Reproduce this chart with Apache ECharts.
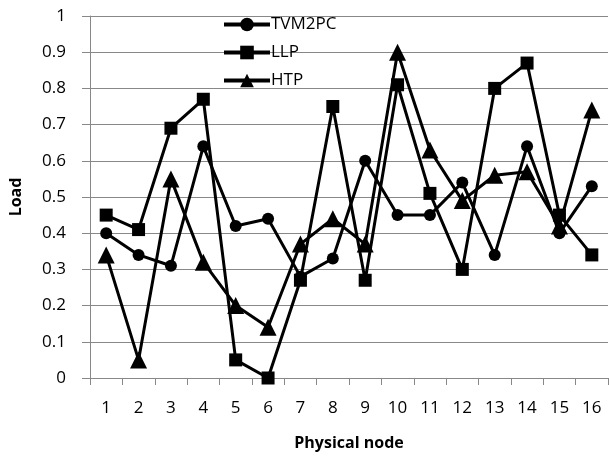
<!DOCTYPE html>
<html>
<head>
<meta charset="utf-8">
<script src="https://cdn.jsdelivr.net/npm/echarts@6/dist/echarts.min.js"></script>
<style>
  html, body { margin: 0; padding: 0; background: #fff; }
  #main { width: 609px; height: 456px; }
</style>
</head>
<body>
<div id="main"></div>
<script>
var nodes = ['1', '2', '3', '4', '5', '6', '7', '8', '9', '10', '11', '12', '13', '14', '15', '16'];
var tvm2pc = [0.40, 0.34, 0.31, 0.64, 0.42, 0.44, 0.28, 0.33, 0.60, 0.45, 0.45, 0.54, 0.34, 0.64, 0.40, 0.53];
var llp = [0.45, 0.41, 0.69, 0.77, 0.05, 0.00, 0.27, 0.75, 0.27, 0.81, 0.51, 0.30, 0.80, 0.87, 0.45, 0.34];
var htp = [0.34, 0.05, 0.55, 0.32, 0.20, 0.14, 0.37, 0.44, 0.37, 0.90, 0.63, 0.49, 0.56, 0.57, 0.42, 0.74];

var dom = document.getElementById('main');
var myChart = echarts.init(dom);

var font = 'Open Sans';

function lineSeries(name, data, symbol, size) {
  return {
    name: name,
    type: 'line',
    data: data,
    symbol: symbol,
    symbolSize: size,
    showAllSymbol: true,
    lineStyle: { color: '#000', width: 3 },
    itemStyle: { color: '#000' }
  };
}

var option = {
  backgroundColor: '#fff',
  animation: false,
  grid: { left: 88, right: 1, top: 16, bottom: 77 },
  legend: {
    orient: 'vertical',
    left: 217,
    top: 11,
    itemWidth: 46,
    itemHeight: 17,
    itemGap: 11,
    lineStyle: { width: 4, color: '#000' },
    itemStyle: { color: '#000' },
    textStyle: { fontFamily: font, fontSize: 17, color: '#000', padding: [0, 0, 0, -4] },
    data: ['TVM2PC', 'LLP', 'HTP']
  },
  xAxis: {
    type: 'category',
    data: nodes,
    name: 'Physical node',
    nameLocation: 'middle',
    nameGap: 57,
    nameTextStyle: { fontFamily: font, fontSize: 16, fontWeight: 'bold', color: '#000' },
    axisLine: { lineStyle: { color: '#888', width: 1 } },
    axisTick: { show: true, length: 7, lineStyle: { color: '#888' } },
    axisLabel: { fontFamily: font, fontSize: 17, color: '#000', margin: 22 }
  },
  yAxis: {
    type: 'value',
    min: 0,
    max: 1,
    interval: 0.1,
    name: 'Load',
    nameLocation: 'middle',
    nameGap: 66,
    nameTextStyle: { fontFamily: font, fontSize: 16, fontWeight: 'bold', color: '#000' },
    axisLine: { show: true, lineStyle: { color: '#888', width: 1 } },
    axisTick: { show: true, length: 8, lineStyle: { color: '#888' } },
    splitLine: { lineStyle: { color: '#888', width: 1 } },
    axisLabel: { fontFamily: font, fontSize: 17, color: '#000', margin: 24 }
  },
  series: [
    lineSeries('TVM2PC', tvm2pc, 'circle', 12),
    lineSeries('LLP', llp, 'rect', 13),
    lineSeries('HTP', htp, 'triangle', 17)
  ]
};

if (option && typeof option === 'object') {
  myChart.setOption(option);
}
</script>
</body>
</html>
